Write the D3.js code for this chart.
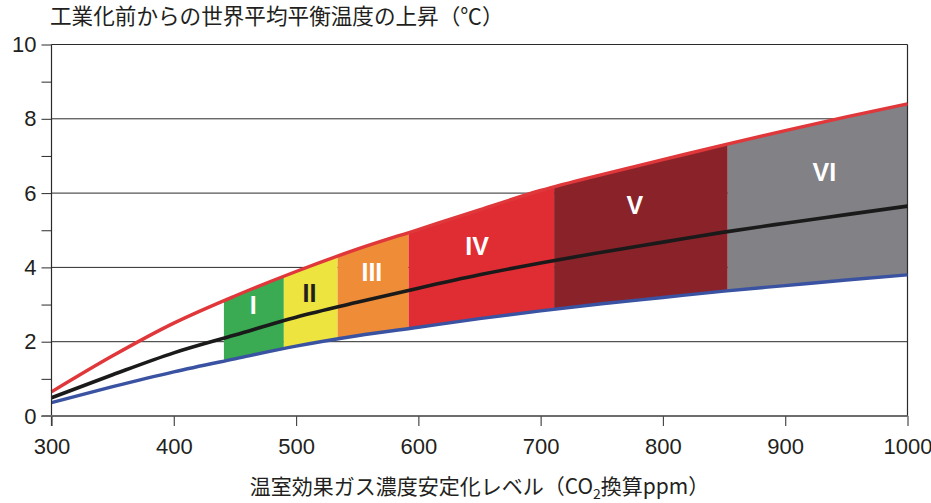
<!DOCTYPE html>
<html>
<head>
<meta charset="utf-8">
<script src="https://cdn.jsdelivr.net/npm/d3@7"></script>
<style>
  body { margin: 0; background: #fff; }
  svg { display: block; }
</style>
</head>
<body>
<svg id="chart" width="931" height="503"></svg>
<script>
// CO2-equivalent stabilisation level (ppm)
const ppm     = [300, 350, 400, 450, 500, 550, 600, 650, 700, 750, 800, 850, 900, 950, 1000];
// Equilibrium warming above pre-industrial (°C): upper bound, best estimate, lower bound
const upper   = [0.65, 1.62, 2.50, 3.23, 3.89, 4.49, 5.02, 5.55, 6.07, 6.50, 6.90, 7.30, 7.68, 8.05, 8.40];
const central = [0.49, 1.11, 1.70, 2.18, 2.66, 3.06, 3.44, 3.80, 4.12, 4.41, 4.68, 4.95, 5.19, 5.42, 5.65];
const lower   = [0.36, 0.79, 1.19, 1.54, 1.88, 2.16, 2.39, 2.62, 2.83, 3.02, 3.19, 3.36, 3.51, 3.66, 3.80];

// Stabilisation categories and their ppm ranges
const categories   = ["I", "II", "III", "IV", "V", "VI"];
const categoryFrom = [441, 490, 534, 592, 711, 853];
const categoryTo   = [490, 534, 592, 711, 853, 1000];

// Axis ticks
const xTicks = [300, 400, 500, 600, 700, 800, 900, 1000];
const yTicks = [0, 1, 2, 3, 4, 5, 6, 7, 8, 9, 10];
const yLabelTicks = [0, 2, 4, 6, 8, 10];

// ---- styling / layout ----
const bandColors  = ["#3aab52", "#eee43f", "#ef8c37", "#e02d33", "#8a2329", "#818186"];
const labelColors = ["#ffffff", "#231f20", "#ffffff", "#ffffff", "#ffffff", "#ffffff"];
const labelAnchors = [[465, 2.98], [511, 3.30], [562, 3.88], [648, 4.58], [777, 5.68], [932, 6.56]];
const numFont = "'Liberation Sans', Arial, sans-serif";
const jpFont  = "'Noto Sans CJK JP', 'Noto Sans', sans-serif";

const svg = d3.select("#chart");
const x = d3.scaleLinear().domain([300, 1000]).range([51.5, 907.5]);
const y = d3.scaleLinear().domain([0, 10]).range([416, 44.5]);

const rows = ppm.map((p, i) => ({ p, hi: upper[i], mid: central[i], lo: lower[i] }));
const curve = d3.curveMonotoneX;

// Horizontal gridlines
svg.append("g")
  .selectAll("line")
  .data(yLabelTicks.filter(d => d > 0))
  .join("line")
  .attr("x1", x(300)).attr("x2", x(1000))
  .attr("y1", d => y(d)).attr("y2", d => y(d))
  .attr("stroke", "#2b2b2b").attr("stroke-width", 1);

// Coloured bands between lower and upper curves, one per category
const defs = svg.append("defs");
categories.forEach((c, i) => {
  defs.append("clipPath").attr("id", "clip-" + i)
    .append("rect")
    .attr("x", x(categoryFrom[i])).attr("width", x(categoryTo[i]) - x(categoryFrom[i]))
    .attr("y", 0).attr("height", 503);
});
const band = d3.area().x(d => x(d.p)).y0(d => y(d.lo)).y1(d => y(d.hi)).curve(curve);
svg.append("g")
  .selectAll("path")
  .data(categories)
  .join("path")
  .attr("d", band(rows))
  .attr("clip-path", (d, i) => `url(#clip-${i})`)
  .attr("fill", (d, i) => bandColors[i]);

// Right frame line
svg.append("line")
  .attr("x1", x(1000)).attr("x2", x(1000))
  .attr("y1", y(10)).attr("y2", y(0))
  .attr("stroke", "#2b2b2b").attr("stroke-width", 1.2);

// Curves
const line = key => d3.line().x(d => x(d.p)).y(d => y(d[key])).curve(curve);
[["lo", "#3a52a2"], ["hi", "#e0373b"], ["mid", "#1a1a1a"]].forEach(([key, col]) => {
  svg.append("path")
    .attr("d", line(key)(rows))
    .attr("fill", "none")
    .attr("stroke", col)
    .attr("stroke-width", key === "mid" ? 3.6 : 3.4)
    .attr("stroke-linecap", "butt");
});

// Category labels
svg.append("g")
  .selectAll("text")
  .data(categories)
  .join("text")
  .attr("x", (d, i) => x(labelAnchors[i][0]))
  .attr("y", (d, i) => y(labelAnchors[i][1]))
  .attr("dy", "0.36em")
  .attr("text-anchor", "middle")
  .attr("font-family", numFont)
  .attr("font-weight", "bold")
  .attr("font-size", 25)
  .attr("fill", (d, i) => labelColors[i])
  .text(d => d);

// Y axis
const yAxis = svg.append("g")
  .attr("transform", `translate(${x(300)},0)`)
  .call(d3.axisLeft(y).tickValues(yTicks).tickSize(10).tickPadding(5)
    .tickFormat(d => yLabelTicks.includes(d) ? d : ""));
yAxis.select(".domain").attr("stroke", "#2b2b2b").attr("stroke-width", 1.2)
  .attr("d", `M0,${y(10)}V${y(0) + 10}`);
yAxis.selectAll(".tick line").attr("stroke", "#2b2b2b");
yAxis.selectAll(".tick text")
  .attr("font-family", numFont).attr("font-size", 22).attr("fill", "#231f20");

// X axis
const xAxis = svg.append("g")
  .attr("transform", `translate(0,${y(0)})`)
  .call(d3.axisBottom(x).tickValues(xTicks).tickSize(10).tickPadding(12).tickFormat(d3.format("d")));
xAxis.select(".domain").attr("stroke", "#6d6d6d").attr("stroke-width", 2.2)
  .attr("d", `M${x(300) - 10},0H${x(1000)}`);
xAxis.selectAll(".tick line").attr("stroke", "#4a4a4a").attr("stroke-width", 1.2);
xAxis.selectAll(".tick text")
  .attr("font-family", numFont).attr("font-size", 22).attr("fill", "#231f20");

// Titles
svg.append("text")
  .attr("x", 50).attr("y", 24)
  .attr("font-family", jpFont).attr("font-size", 21.6).attr("fill", "#231f20")
  .text("工業化前からの世界平均平衡温度の上昇（℃）");

const xt = svg.append("text")
  .attr("x", (x(300) + x(1000)) / 2).attr("y", 494)
  .attr("text-anchor", "middle")
  .attr("font-family", jpFont).attr("font-size", 21).attr("fill", "#231f20");
xt.append("tspan").text("温室効果ガス濃度安定化レベル（CO");
xt.append("tspan").attr("font-size", 14).attr("dy", 5).text("2");
xt.append("tspan").attr("dy", -5).text("換算ppm）");
</script>
</body>
</html>
